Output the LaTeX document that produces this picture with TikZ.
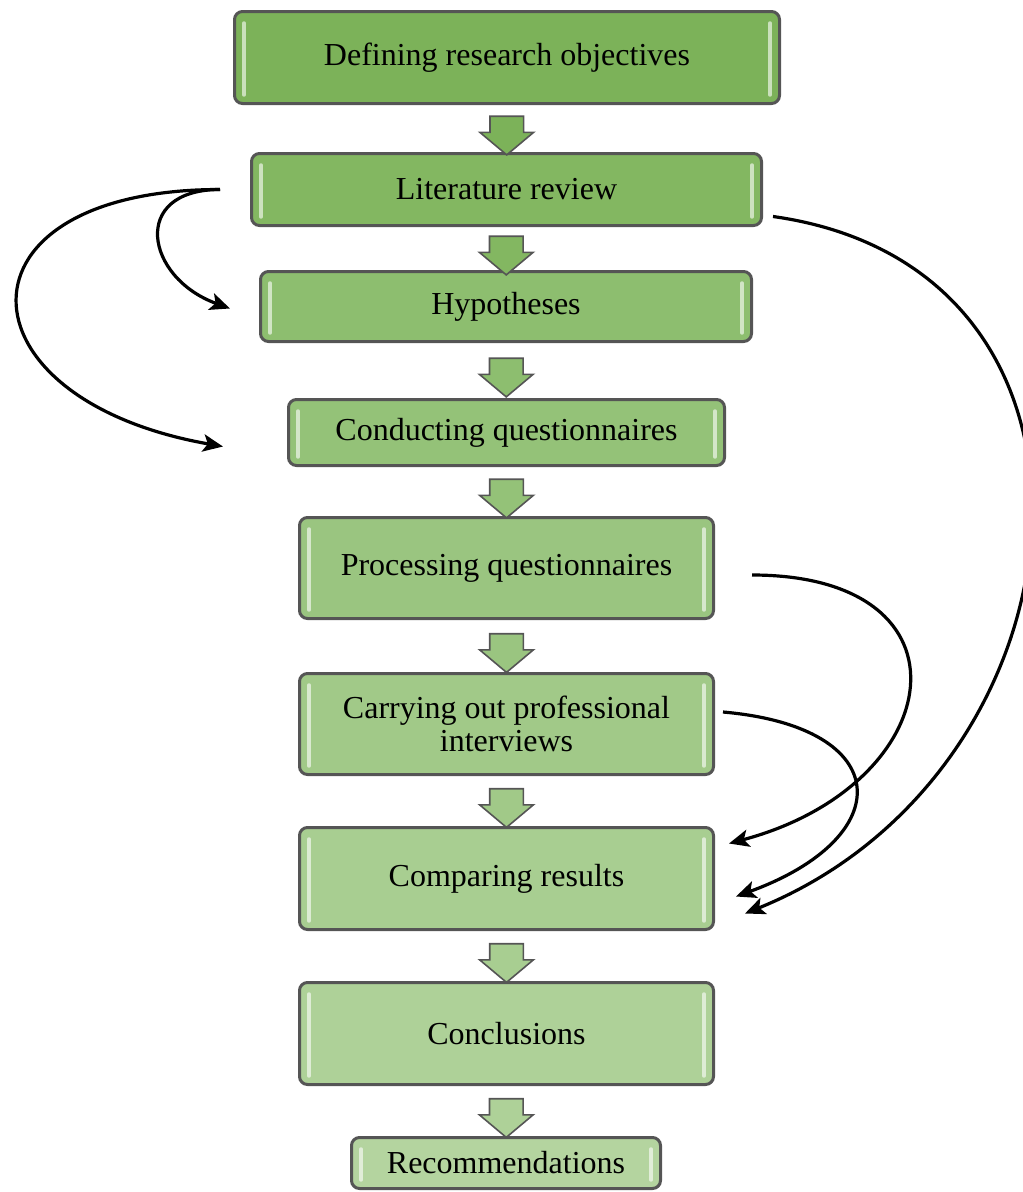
\documentclass[tikz,border=0pt]{standalone}
\usepackage{fontspec}
\setmainfont{Liberation Serif}
\usetikzlibrary{arrows.meta,shapes.arrows,calc}
\definecolor{boxedge}{HTML}{555555}
\definecolor{stepA}{HTML}{7CB259}
\definecolor{stepB}{HTML}{83B761}
\definecolor{stepC}{HTML}{8DBE6F}
\definecolor{stepD}{HTML}{94C278}
\definecolor{stepE}{HTML}{9AC580}
\definecolor{stepF}{HTML}{A1C988}
\definecolor{stepG}{HTML}{A8CE91}
\definecolor{stepH}{HTML}{AED198}
\definecolor{stepI}{HTML}{B4D49F}
\tikzset{
  stepbox/.style={draw=boxedge,line width=2.25pt,rounded corners=6pt,font=\fontsize{24}{24.75}\selectfont,align=center,inner sep=0pt},
  downarrow/.style={single arrow,shape border rotate=270,draw=boxedge,line width=1.2pt,minimum height=29pt,inner xsep=12pt,inner ysep=1pt,single arrow head extend=7.5pt,single arrow tip angle=100},
  bevel/.style={line width=2.6pt,draw=white,opacity=0.6,line cap=round},
  looparrow/.style={-{Stealth[length=15pt,width=13pt,inset=3.5pt]},line width=2.4pt}
}
\begin{document}
\begin{tikzpicture}[x=0.75pt,y=0.75pt]
\useasboundingbox (0,0) rectangle (1022,-1192);
\node[stepbox,fill=stepA,minimum width=408.75pt,minimum height=69pt] (obj) at (507,-57.5) {Defining research objectives};
\node[stepbox,fill=stepB,minimum width=382.5pt,minimum height=54pt] (lit) at (506.5,-189.5) {Literature review};
\node[stepbox,fill=stepC,minimum width=368.25pt,minimum height=52.5pt] (hyp) at (506,-306.5) {Hypotheses};
\node[stepbox,fill=stepD,minimum width=327pt,minimum height=49.5pt] (cond) at (506.5,-432.5) {Conducting questionnaires};
\node[stepbox,fill=stepE,minimum width=310.5pt,minimum height=75.75pt] (proc) at (506.5,-568) {Processing questionnaires};
\node[stepbox,fill=stepF,minimum width=310.5pt,minimum height=75.75pt] (carry) at (506.5,-724) {Carrying out professional\\interviews};
\node[stepbox,fill=stepG,minimum width=310.5pt,minimum height=76.5pt] (comp) at (506.5,-878.5) {Comparing results};
\node[stepbox,fill=stepH,minimum width=310.5pt,minimum height=76.5pt] (concl) at (506.5,-1033.5) {Conclusions};
\node[stepbox,fill=stepI,minimum width=231.75pt,minimum height=38.25pt] (rec) at (506,-1163) {Recommendations};
\foreach \n in {obj,lit,hyp,cond,proc,carry,comp,concl,rec}{
  \draw[bevel] ([shift={(11,-13)}]\n.north west) -- ([shift={(11,10)}]\n.south west);
  \draw[bevel] ([shift={(-11,-13)}]\n.north east) -- ([shift={(-11,10)}]\n.south east);
}
\foreach \a/\b/\c in {obj/lit/stepA,lit/hyp/stepB,hyp/cond/stepC,cond/proc/stepD,proc/carry/stepE,carry/comp/stepF,comp/concl/stepG,concl/rec/stepH}{
  \node[downarrow,fill=\c] (\a-\b) at ($(\a.south)!0.5!(\b.north)$) {};
}
\draw[looparrow] ([shift={(-30,0)}]lit.west) to[out=180,in=160,looseness=1.94] ([shift={(-29,-2)}]hyp.west);
\draw[looparrow] ([shift={(-30,0)}]lit.west) to[out=180,in=170,looseness=2.72] ([shift={(-64,-14)}]cond.west);
\draw[looparrow] ([shift={(10,-27)}]lit.east) to[out=-8,in=22,looseness=1.38] ([shift={(30,-35)}]comp.east);
\draw[looparrow] ([shift={(37,-7)}]proc.east) to[out=0,in=15,looseness=2.17] ([shift={(14,35)}]comp.east);
\draw[looparrow] ([shift={(8,12)}]carry.east) to[out=-5,in=20,looseness=2.4] ([shift={(21,-18)}]comp.east);
\end{tikzpicture}
\end{document}
